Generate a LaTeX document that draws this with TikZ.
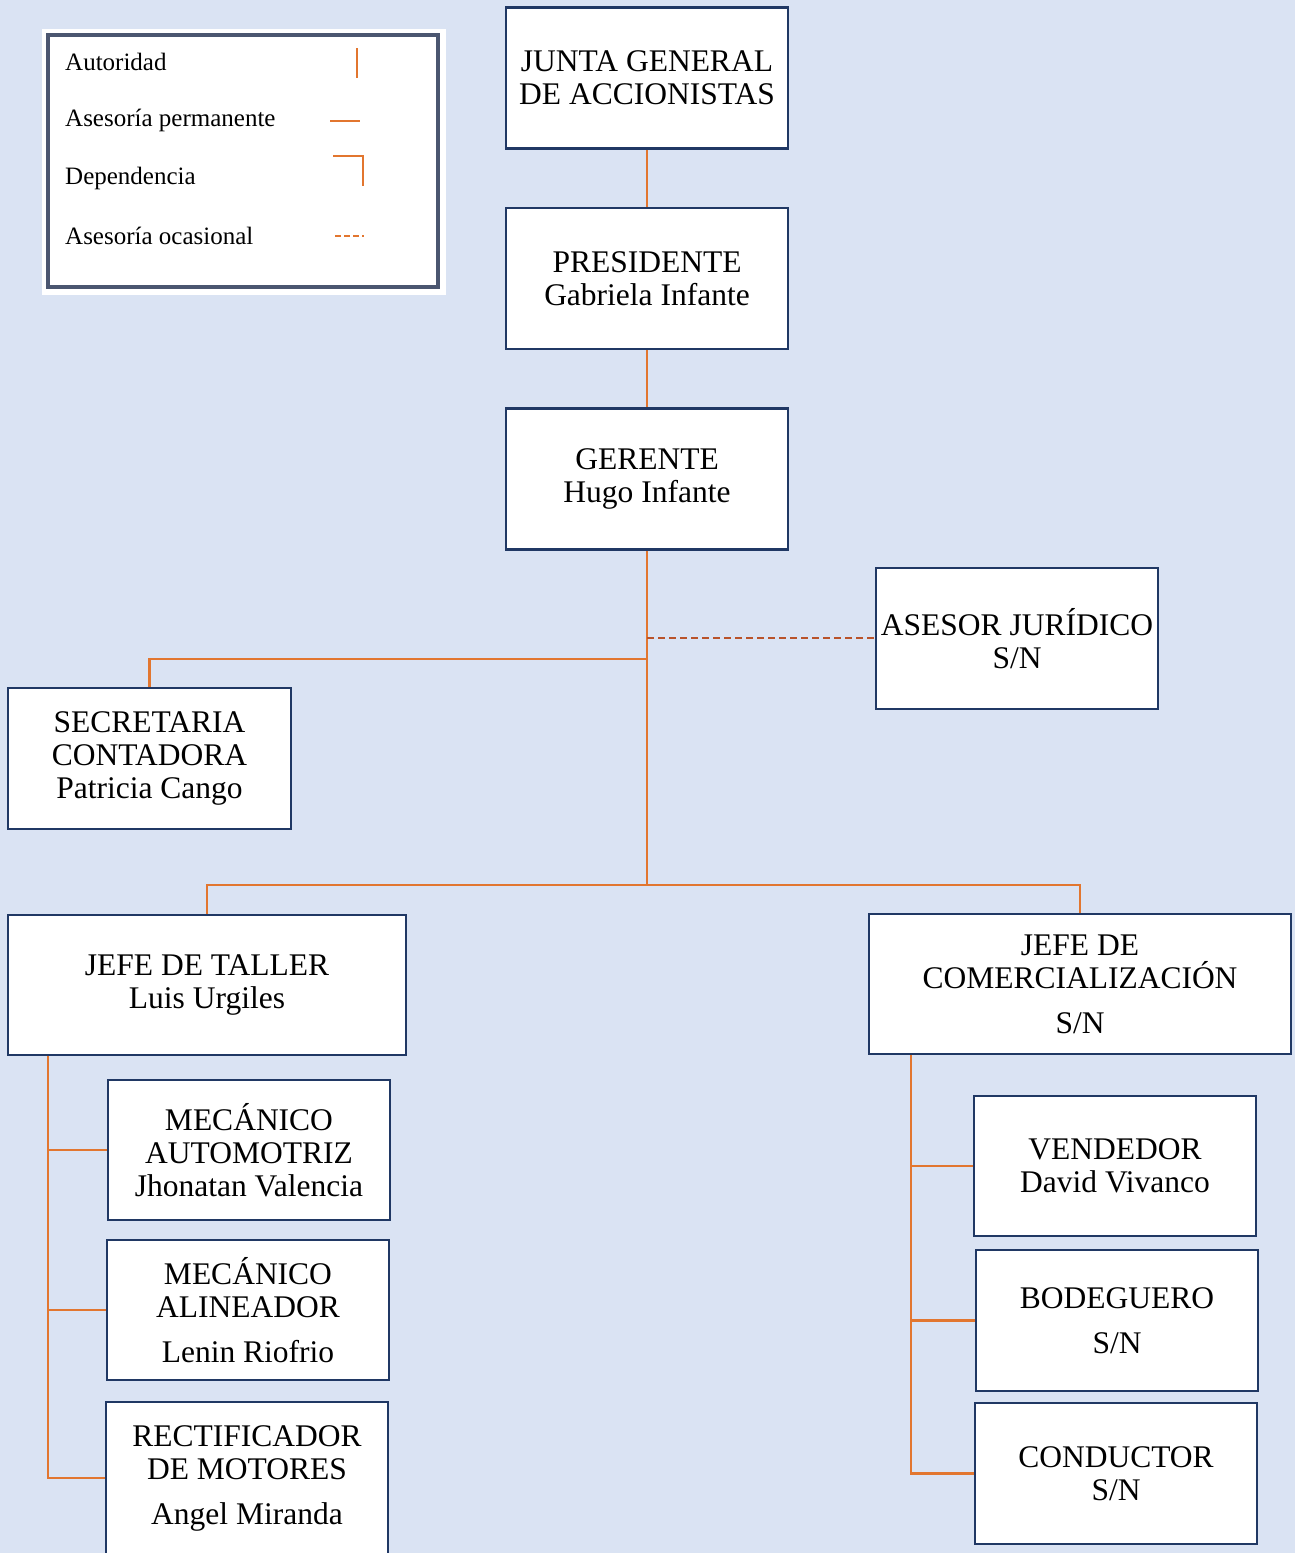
\documentclass[tikz,border=0pt]{standalone}
\usepackage{fontspec}
\setmainfont{Liberation Serif}
\definecolor{bgblue}{HTML}{DAE3F3}
\definecolor{navy}{HTML}{203864}
\definecolor{orgline}{HTML}{E2762F}
\definecolor{occline}{HTML}{B9532A}
\definecolor{legborder}{HTML}{4B5670}
\begin{document}
\begin{tikzpicture}[x=1pt,y=-1pt,
  box/.style={draw=navy, line width=2.8pt, fill=white, inner sep=0pt, align=center,
    font=\fontsize{31.5}{33}\selectfont, minimum width=282pt, minimum height=141pt},
  auth/.style={draw=orgline, line width=2.8pt},
  occ/.style={draw=occline, line width=2.8pt, dash pattern=on 7pt off 4pt},
  legtext/.style={anchor=west, inner sep=0pt, font=\fontsize{25}{27}\selectfont},
  legline/.style={draw=orgline, line width=2.4pt}]
\useasboundingbox (0,0) rectangle (1295,1553);
\fill[bgblue] (0,0) rectangle (1295,1553);

% legend
\fill[white] (42,29) rectangle (446,295);
\draw[legborder, line width=3.5pt] (48,35) rectangle (438,287);
\node[legtext] (l1) at (65,62) {Autoridad};
\node[legtext] (l2) at (65,120) {Asesoría permanente};
\node[legtext] (l3) at (65,178) {Dependencia};
\node[legtext] (l4) at (65,236) {Asesoría ocasional};
\draw[legline] (357,48) -- (357,78);
\draw[legline] (330,121) -- (360,121);
\draw[legline] (333,156) -- (363,156) -- (363,186);
\draw[legline, dash pattern=on 6pt off 3pt] (335,236) -- (364,236);

% boxes
\node[box] (junta) at (647,78) {JUNTA GENERAL\\DE ACCIONISTAS};
\node[box] (pres) at (647,278.5) {PRESIDENTE\\Gabriela Infante};
\node[box] (ger) at (647,479) {GERENTE\\Hugo Infante};
\node[box] (ases) at (1017,638.5) {ASESOR JURÍDICO\\S/N};
\node[box, minimum width=283pt] (sec) at (149.5,758.5) {SECRETARIA\\CONTADORA\\Patricia Cango};
\node[box, minimum width=398pt, minimum height=140pt] (taller) at (207,985) {JEFE DE TALLER\\Luis Urgiles};
\node[box, minimum width=422pt, minimum height=140pt] (com) at (1080,984) {JEFE DE\\COMERCIALIZACIÓN\\[12pt]S/N};
\node[box, minimum height=140pt] (mec1) at (249,1150) {MECÁNICO\\AUTOMOTRIZ\\Jhonatan Valencia};
\node[box, minimum height=140pt] (mec2) at (248,1310) {MECÁNICO\\ALINEADOR\\[12pt]Lenin Riofrio};
\node[box, minimum height=152pt] (rect) at (247,1478) {RECTIFICADOR\\DE MOTORES\\[12pt]Angel Miranda};
\node[box, minimum height=140pt] (vend) at (1115,1166) {VENDEDOR\\David Vivanco};
\node[box] (bod) at (1117,1320.5) {BODEGUERO\\[12pt]S/N};
\node[box] (cond) at (1116,1473.5) {CONDUCTOR\\S/N};

% connectors
\coordinate (hub) at (647,885);
\coordinate (sj) at (647,659);
\coordinate (oj) at (647,638);
\coordinate (tl) at (48,1478);
\coordinate (cl) at (911,1473.5);
\draw[auth] (junta.south) -- (pres.north);
\draw[auth] (pres.south) -- (ger.north);
\draw[auth] (ger.south) -- (hub);
\draw[auth] (sj) -| (sec.north);
\draw[occ] (oj) -- (ases.west |- oj);
\draw[auth] (hub) -| (taller.north);
\draw[auth] (hub) -| (com.north);
\draw[auth] (taller.south -| tl) -- (tl) -- (rect.west);
\draw[auth] (mec1.west) -- (mec1.west -| tl);
\draw[auth] (mec2.west) -- (mec2.west -| tl);
\draw[auth] (com.south -| cl) -- (cl) -- (cond.west);
\draw[auth] (vend.west) -- (vend.west -| cl);
\draw[auth] (bod.west) -- (bod.west -| cl);
\end{tikzpicture}
\end{document}
